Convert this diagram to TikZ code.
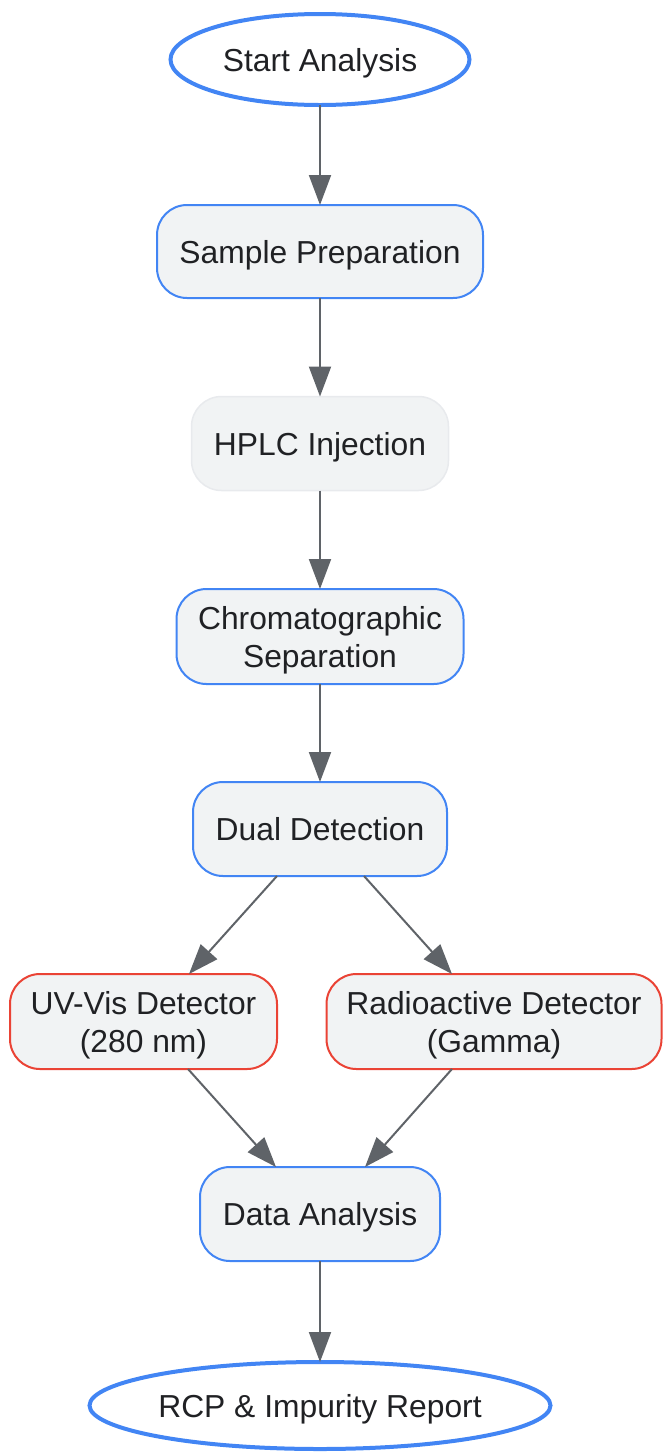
\documentclass[tikz,border=0pt]{standalone}
\usepackage{fontspec}
\setmainfont{Liberation Sans}
\usetikzlibrary{shapes.geometric,arrows.meta,calc}
\definecolor{gblue}{HTML}{4285F4}
\definecolor{gred}{HTML}{EA4335}
\definecolor{gfill}{HTML}{F1F3F4}
\definecolor{glight}{HTML}{E8EAED}
\definecolor{garrow}{HTML}{5F6368}
\definecolor{gtext}{HTML}{202124}
\tikzset{
  every node/.style={font=\fontsize{31.8}{38}\selectfont, text=gtext, align=center, inner sep=0pt, outer sep=0pt, text depth=0pt},
  term/.style={ellipse, draw=gblue, line width=4pt, fill=white},
  stepbox/.style={rectangle, rounded corners=30pt, draw=gblue, line width=2pt, fill=gfill},
  plainbox/.style={rectangle, rounded corners=30pt, draw=glight, line width=1.5pt, fill=gfill},
  detbox/.style={rectangle, rounded corners=30pt, draw=gred, line width=2pt, fill=gfill},
  conn/.style={draw=garrow, line width=2pt, -{Triangle[length=30pt,width=22pt]}}
}
\begin{document}
\begin{tikzpicture}[x=1pt,y=-1pt]
\useasboundingbox (0,0) rectangle (663,1452);
\node[term, minimum width=299pt, minimum height=91pt] (start) at (320,59.5) {Start Analysis};
\node[stepbox, minimum width=326pt, minimum height=93pt] (sample) at (320,251.5) {Sample Preparation};
\node[plainbox, minimum width=257pt, minimum height=94pt] (hplc) at (320,443.5) {HPLC Injection};
\node[stepbox, minimum width=287pt, minimum height=95pt] (chrom) at (320,636.5) {Chromatographic\\Separation};
\node[stepbox, minimum width=254pt, minimum height=94pt] (dual) at (320,829) {Dual Detection};
\node[detbox, minimum width=267pt, minimum height=95pt] (uv) at (143.5,1021.5) {UV-Vis Detector\\(280 nm)};
\node[detbox, minimum width=335pt, minimum height=95pt] (rad) at (494,1021.5) {Radioactive Detector\\(Gamma)};
\node[stepbox, minimum width=240pt, minimum height=94pt] (data) at (320,1214) {Data Analysis};
\node[term, minimum width=461pt, minimum height=87pt] (report) at (320,1405.5) {RCP \& Impurity Report};
\draw[conn] (start) -- (sample);
\draw[conn] (sample) -- (hplc);
\draw[conn] (hplc) -- (chrom);
\draw[conn] (chrom) -- (dual);
\draw[conn] ([xshift=-43pt]dual.south) -- ([xshift=45.5pt]uv.north);
\draw[conn] ([xshift=44pt]dual.south) -- ([xshift=-42pt]rad.north);
\draw[conn] ([xshift=44.5pt]uv.south) -- ([xshift=-44pt]data.north);
\draw[conn] ([xshift=-42pt]rad.south) -- ([xshift=45pt]data.north);
\draw[conn] (data) -- (report);
\end{tikzpicture}
\end{document}
